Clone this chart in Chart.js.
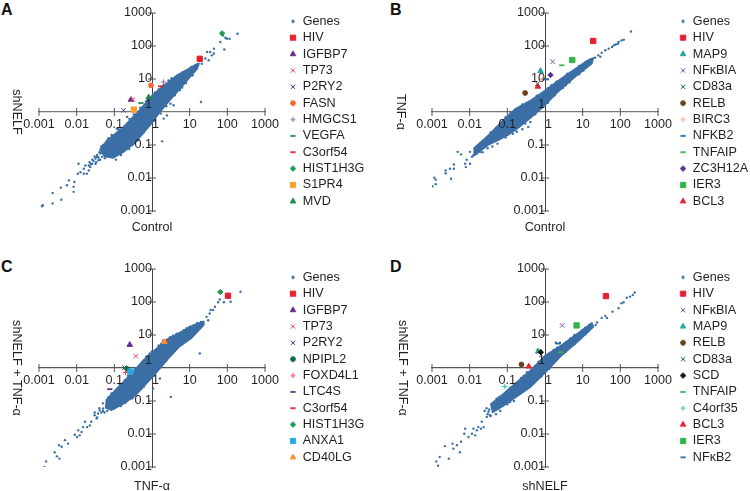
<!DOCTYPE html>
<html>
<head>
<meta charset="utf-8">
<script src="https://cdn.jsdelivr.net/npm/chart.js@4/dist/chart.umd.js"></script>
<style>
  html, body { margin: 0; background: #fff; width: 750px; height: 491px; overflow: hidden; }
  canvas { position: absolute; }
  .letra { position: absolute; font: bold 16px "Liberation Sans", Arial, sans-serif; color: #111; line-height: 16px; }
</style>
</head>
<body>
<div class="letra" style="left:1px;top:2px">A</div>
<div class="letra" style="left:390px;top:2px">B</div>
<div class="letra" style="left:1px;top:259px">C</div>
<div class="letra" style="left:390px;top:259px">D</div>
<canvas id="chartA" width="375" height="235" style="left:0;top:0"></canvas>
<canvas id="chartB" width="375" height="235" style="left:375px;top:0"></canvas>
<canvas id="chartC" width="375" height="235" style="left:0;top:256px"></canvas>
<canvas id="chartD" width="375" height="235" style="left:375px;top:256px"></canvas>
<script>
  // ejes: mismas divisiones en los dos
  const tickValues = [0.001, 0.01, 0.1, 1, 10, 100, 1000]

  // A: shNELF vs Control
  const labelsA = ["HIV", "IGFBP7", "TP73", "P2RY2", "FASN", "HMGCS1", "VEGFA", "C3orf54", "HIST1H3G", "S1PR4", "MVD"]
  const valuesA = [[18.5,41],[0.276,2.36],[0.31,2.4],[0.176,1.12],[0.94,6.4],[2.04,8.1],[0.51,1.87],[1.7,6],[72.7,242],[0.33,1.18],[0.815,2.78]]
  const bandA = [[0.04,0.07],[0.063,0.138],[0.174,0.36],[0.48,1.2],[1,3.2],[1.6,5.1],[4.5,12.9],[9,20],[15.3,29],[18,30],
    [16,20],[10,11],[6.8,6.5],[3,2.26],[1.47,0.85],[1,0.46],[0.355,0.115],[0.174,0.06],[0.093,0.04],[0.052,0.045]]
  const genesA = [[0.0012,0.0014],[0.00126,0.0015],[0.0023,0.0035],[0.0023,0.0017],[0.0039,0.0022],[0.0038,0.0051],[0.0055,0.006],[0.0062,0.0085],
    [0.0083,0.0038],[0.0083,0.0054],[0.0087,0.0076],[0.0107,0.0135],[0.0112,0.027],[0.0126,0.015],[0.0155,0.019],[0.017,0.024],[0.0186,0.0135],
    [0.021,0.017],[0.023,0.0214],[0.0257,0.027],[0.0316,0.027],[0.0347,0.0437],[0.038,0.0347],[0.0316,0.0389],[0.021,0.024],[0.0155,0.0135],
    [0.043,0.055],[0.047,0.0437],[0.0645,0.138],[0.117,0.31],[0.218,0.71],[0.49,1.35],[1.5,4.8],[2.75,9.1],[5.6,13.8],[10.5,20.5],
    [0.096,0.049],[0.218,0.078],[0.447,0.195],[0.81,0.447],[3.1,1.78],[3.76,1.6],[2.5,0.79],[2.04,0.63],[6.3,5.5],[11.5,12.9],
    [21,29],[26,42],[32,37],[29,66],[35,66],[44,83],[39,52],[44,59],[65,132],[77,209],[89,178],[98,166],[83,78],[115,166],[186,234],[20,2],[1.86,0.129],
    [0.022,0.03],[0.026,0.036],[0.03,0.045],[0.035,0.05],[0.028,0.033],[0.033,0.03],[0.024,0.026],[0.038,0.042],[0.04,0.06],[0.042,0.036],[0.045,0.09],
    [0.05,0.1],[0.056,0.04],[0.07,0.16],[0.085,0.2],[0.11,0.036],[0.15,0.05],[0.25,0.075],[0.3,0.1],[0.42,0.14],[0.6,0.24],[0.75,0.35],[1.2,0.55],[1.7,0.9],
    [2.4,1.5],[4,3.2],[5.5,4.6],[8,7.5],[12,13],[0.13,0.3],[0.25,0.62],[0.33,0.85],[0.7,2.1],[1.2,3.9],[2,6.5],[3.3,10.5],[6.5,16],[11,23]]

  // B: TNF-a vs Control
  const labelsB = ["HIV", "MAP9", "NFκBIA", "CD83a", "RELB", "BIRC3", "NFKB2", "TNFAIP", "ZC3H12A", "IER3", "BCL3"]
  const valuesB = [[19.1,142],[0.76,17.5],[1.6,33.5],[0.63,7.2],[0.297,3.76],[0.86,9.8],[1.1,9.7],[2.8,26],[1.4,13.2],[5.3,37.7],[0.645,5.9]]
  const bandB = [[0.0126,0.078],[0.0316,0.2],[0.071,0.52],[0.162,1.26],[0.447,2.4],[1,4.6],[2.3,9.1],[6.3,20.5],[14.5,39],[19.5,44],
    [17.8,29],[6.3,11.5],[2.3,4.2],[1,1.6],[0.447,0.7],[0.2,0.33],[0.107,0.2],[0.058,0.14],[0.0316,0.1],[0.0126,0.0457]]
  const genesB = [[0.00102,0.0056],[0.00126,0.0065],[0.00115,0.0102],[0.00126,0.0089],[0.0032,0.0095],[0.0023,0.017],[0.0023,0.014],[0.003,0.019],
    [0.0038,0.0257],[0.0038,0.019],[0.0048,0.062],[0.0059,0.052],[0.0076,0.027],[0.0079,0.0214],[0.0102,0.027],[0.0083,0.036],[0.0102,0.062],
    [0.0126,0.049],[0.014,0.078],[0.017,0.087],[0.019,0.062],[0.0234,0.11],[0.0257,0.138],[0.0155,0.055],[0.021,0.078],[0.0115,0.0437],
    [21.5,44],[32,62],[40,74],[49,83],[60,93],[76,112],[90,132],[107,148],[123,155],[87,117],[68,105],[26,52],[191,275],[29.5,47],
    [0.27,1.48],[0.676,3.2],[1.5,6.5],[3.8,13.8],[9.5,26],[0.36,0.35],[0.24,0.43],[0.41,0.5],[0.676,1.12],[1.5,2.85],[3.5,6.5],[10.5,18],[0.162,0.28],[0.071,0.22],[0.048,0.138],
    [0.014,0.06],[0.016,0.085],[0.018,0.07],[0.02,0.1],[0.022,0.06],[0.025,0.09],[0.028,0.16],[0.03,0.08],[0.036,0.24],[0.04,0.09],[0.05,0.33],[0.09,0.7],[0.12,1],
    [0.055,0.11],[0.09,0.17],[0.14,0.22],[0.18,0.25],[0.25,0.3],[0.3,0.45],[0.55,0.85],[0.8,1.3],[1.2,1.9],[1.8,3.2],[3,5.3],[4.5,8],[8,14],[0.25,1.7],[0.6,3.1],[1.2,5.3],[2,8.3],[4,14.5],[8,25],[12,33]]

  // C: shNELF + TNF-a vs TNF-a
  const labelsC = ["HIV", "IGFBP7", "TP73", "P2RY2", "NPIPL2", "FOXD4L1", "LTC4S", "C3orf54", "HIST1H3G", "ANXA1", "CD40LG"]
  const valuesC = [[104,155],[0.257,5.05],[0.37,2.28],[0.186,1.03],[0.218,0.94],[0.197,0.73],[0.076,0.228],[2.15,6.8],[65,200],[0.268,0.78],[2.15,6.2]]
  const bandC = [[0.059,0.105],[0.115,0.24],[0.285,0.68],[0.58,1.74],[1.19,3.6],[2.43,7.3],[5.5,12],[12.3,20],[23,26],
    [24,20],[11.2,8],[5.5,4.5],[2.7,1.9],[1.32,0.72],[0.71,0.33],[0.35,0.14],[0.17,0.08],[0.084,0.052],[0.056,0.063]]
  const genesC = [[0.0014,0.001],[0.00155,0.00148],[0.0026,0.0028],[0.003,0.0021],[0.0035,0.0018],[0.0034,0.0046],[0.004,0.0041],[0.0049,0.0065],
    [0.0059,0.0051],[0.0089,0.0095],[0.0102,0.0081],[0.012,0.0091],[0.011,0.0129],[0.0148,0.0162],[0.019,0.0162],[0.0245,0.0234],[0.0224,0.0182],
    [0.03,0.037],[0.037,0.042],[0.041,0.052],[0.05,0.059],[0.034,0.0295],[0.0166,0.0234],[0.0135,0.0115],
    [0.084,0.17],[0.19,0.43],[0.43,1.08],[0.87,2.75],[1.78,5.5],[3.6,9.5],[8.3,16],
    [0.126,0.071],[0.257,0.118],[0.525,0.24],[0.97,0.54],[2,1.47],[3.6,3.9],[8.3,9.5],[18.6,2.75],[3.16,0.133],[1.07,0.24],[1.62,0.48],
    [28,35.5],[34,45],[31,28],[36,57],[47,72],[57,98],[63,120],[81,98],[117,145],[122,102],[224,204],[42,57],
    [0.03,0.045],[0.035,0.032],[0.04,0.06],[0.045,0.045],[0.05,0.05],[0.05,0.085],[0.055,0.045],[0.065,0.05],[0.07,0.13],[0.1,0.06],[0.15,0.07],[0.2,0.09],[0.3,0.12],
    [0.45,0.2],[0.6,0.27],[0.85,0.45],[1.2,0.65],[1.8,1.2],[2.4,1.7],[4,3.3],[6,5],[9,7.5],[14,12],[18,17],[0.14,0.32],[0.23,0.58],[0.35,1],[0.7,2.2],[1,3.2],[1.5,4.8],
    [3,8.6],[4.5,11],[7,14],[10,18],[16,23],[20,25]]

  // D: shNELF + TNF-a vs shNELF
  const labelsD = ["HIV", "NFκBIA", "MAP9", "RELB", "CD83a", "SCD", "TNFAIP", "C4orf35", "BCL3", "IER3", "NFκB2"]
  const valuesD = [[41.5,151],[2.86,19.5],[0.66,3.2],[0.237,1.28],[0.68,3.2],[0.775,3],[2.64,3],[0.0855,0.275],[0.37,1.11],[6.9,19.5],[2.2,5.5]]
  const bandD = [[0.035,0.078],[0.079,0.17],[0.178,0.38],[0.41,0.86],[1,2.4],[2.8,5.1],[7.8,12],[17.6,23.5],
    [19.5,17.8],[7.8,6.6],[2.8,2.4],[1,0.7],[0.41,0.26],[0.178,0.135],[0.079,0.07],[0.039,0.0437]]
  const genesD = [[0.0013,0.00148],[0.00145,0.0011],[0.0016,0.002],[0.0022,0.0043],[0.0028,0.0018],[0.0037,0.0036],[0.0046,0.0046],[0.0035,0.0051],
    [0.0055,0.0028],[0.0059,0.0058],[0.0076,0.0145],[0.0072,0.0102],[0.0093,0.0081],[0.0115,0.0102],[0.0126,0.0145],[0.014,0.0091],[0.017,0.0162],
    [0.021,0.0234],[0.0234,0.0162],[0.0316,0.047],[0.0285,0.033],[0.035,0.037],[0.02,0.0145],[0.0155,0.0129],
    [0.052,0.118],[0.118,0.25],[0.27,0.575],[0.676,1.55],[1.7,3.5],[4.7,7.9],[11.7,16.6],
    [0.058,0.059],[0.118,0.093],[0.27,0.2],[0.676,0.54],[1.7,1.55],[4.7,4.4],[11.7,10.5],[1.95,5.8],[2.5,5.8],
    [24,24],[32,33],[40,38],[44,33],[62,51],[90,65],[107,91],[148,135],[182,145],[214,162],[240,195],[122,98],[22,20],
    [0.025,0.05],[0.028,0.06],[0.03,0.04],[0.033,0.055],[0.036,0.035],[0.04,0.07],[0.045,0.09],[0.05,0.04],[0.06,0.13],[0.065,0.05],[0.1,0.2],[0.1,0.08],[0.15,0.1],[0.15,0.3],
    [0.22,0.17],[0.23,0.5],[0.33,0.23],[0.33,0.75],[0.5,0.35],[0.55,1.15],[0.8,0.55],[0.85,1.95],[1.3,0.95],[1.3,2.7],[2.1,1.9],[2.1,4.1],[3.5,3.1],[3.6,5.9],[6,5.2],[6,10],[9,8],[10,14],[14,13],[15,20]]

  // estilo de cada marcador, aparte de los datos
  const tamanos = { rect: 3.75, circle: 2.4, triangle: 3.2, crossRot: 3.2, cross: 2.6, line: 2.6, rectRot: 2.7 }
  const estilos = {
    "HIV": ["rect", "#e51f30"], "IGFBP7": ["triangle", "#6a2d8f"], "TP73": ["crossRot", "#e8505b"], "P2RY2": ["crossRot", "#3d3a80"],
    "FASN": ["circle", "#ee6a31"], "HMGCS1": ["cross", "#8e5aa8"], "VEGFA": ["line", "#1f8a4c"], "C3orf54": ["line", "#e0202f"],
    "HIST1H3G": ["rectRot", "#1f9a50"], "S1PR4": ["rect", "#f5a030"], "MVD": ["triangle", "#1a8a4c"],
    "MAP9": ["triangle", "#1fa898"], "NFκBIA": ["crossRot", "#7d4fa5"], "CD83a": ["crossRot", "#1c6b45"], "RELB": ["circle", "#6a3f1a"],
    "BIRC3": ["cross", "#f5a07a"], "NFKB2": ["line", "#1f6fb0"], "TNFAIP": ["line", "#3ab54a"], "ZC3H12A": ["rectRot", "#5b2d91"],
    "IER3": ["rect", "#35b24a"], "BCL3": ["triangle", "#e8202f"],
    "NPIPL2": ["circle", "#0f6b3c"], "FOXD4L1": ["cross", "#e8404f"], "LTC4S": ["line", "#6a2f91"], "ANXA1": ["rect", "#2aa8e0"], "CD40LG": ["triangle", "#f39230"],
    "SCD": ["rectRot", "#111111"], "C4orf35": ["cross", "#3abfa5"], "NFκB2": ["line", "#1f6fb0"]
  }
  const colorGenes = "#3a6ea5"
  const fuente = { family: "'Liberation Sans', Arial, sans-serif", size: 12.6 }

  // el marcador de la leyenda va en un canvas chico para poder darle su tamaño
  function marcaLeyenda(forma, color, radio) {
    const c = document.createElement("canvas")
    c.width = 14; c.height = 14
    const g = c.getContext("2d")
    g.fillStyle = color; g.strokeStyle = color
    g.lineWidth = (forma == "line") ? 1.8 : 1
    Chart.helpers.drawPoint(g, { pointStyle: forma, radius: radio, borderWidth: g.lineWidth }, 7, 7)
    return c
  }

  // leyenda fuera del area del grafico, en un lugar fijo
  const leyendaFija = {
    id: "leyendaFija",
    beforeLayout(chart, args, opts) {
      const lg = chart.legend
      if (!lg.envuelta) {
        const up = lg.update
        lg.update = function (w, h, m) { up.call(this, w, 400, m); this.width = 90 }
        lg.envuelta = true
      }
    },
    afterLayout(chart, args, opts) {
      const lg = chart.legend
      lg.left = opts.x; lg.right = opts.x + 90
      lg.top = 11.3; lg.bottom = 235
    }
  }

  // rayitas que cruzan los ejes, debajo de los puntos
  const rayitas = {
    id: "rayitas",
    beforeDatasetsDraw(chart) {
      const { ctx, scales: { x, y } } = chart
      const x0 = x.getPixelForValue(1), y0 = y.getPixelForValue(1)
      ctx.save()
      ctx.lineWidth = 1
      ctx.strokeStyle = "#555"
      tickValues.forEach(v => {
        if (v == 1) return
        const px = x.getPixelForValue(v), py = y.getPixelForValue(v)
        ctx.beginPath(); ctx.moveTo(px, y0 - 4); ctx.lineTo(px, y0 + 4); ctx.stroke()
        ctx.beginPath(); ctx.moveTo(x0 - 4, py); ctx.lineTo(x0 + 4, py); ctx.stroke()
      })
      ctx.restore()
    }
  }

  function crearPanel(id, cfg) {
    const datasets = [{
      label: "Genes", data: cfg.genes, pointStyle: "circle", pointRadius: 1.2, pointBorderWidth: 0,
      backgroundColor: colorGenes, borderColor: colorGenes, order: 50
    }, {
      label: "cloud", data: cfg.band, showLine: true, fill: "shape", pointRadius: 0, borderWidth: 1.2,
      backgroundColor: colorGenes, borderColor: colorGenes, order: 60
    }]
    cfg.labels.forEach((nombre, i) => {
      const forma = estilos[nombre][0], color = estilos[nombre][1]
      datasets.push({
        label: nombre, data: [cfg.values[i]], pointStyle: forma, pointRadius: tamanos[forma],
        pointBorderWidth: forma == "line" ? 1.8 : 1, backgroundColor: color, borderColor: color, order: 20 - i
      })
    })

    new Chart(document.getElementById(id).getContext("2d"), {
      type: "scatter",
      data: { datasets: datasets },
      plugins: [leyendaFija, rayitas],
      options: {
        responsive: false,
        animation: false,
        layout: { padding: { left: cfg.left, right: 375 - cfg.left - 226 - 90, top: 13, bottom: 24 } },
        scales: {
          x: {
            type: "logarithmic", min: 0.001, max: 1000, position: { y: 1 },
            afterBuildTicks: s => { s.ticks = tickValues.map(v => ({ value: v })) },
            grid: { display: false, drawTicks: false },
            border: { color: cfg.colorX, width: 1.3 },
            ticks: { autoSkip: false, maxRotation: 0, padding: 5, z: 1, color: "#231f20", font: fuente,
              callback: v => v == 1 ? "  1" : String(v) },
            // la altura del eje tiene tope, el titulo se baja con el padding negativo
            title: { display: true, text: cfg.xTitle, color: "#231f20", font: fuente, padding: { top: 150, bottom: cfg.xPad } }
          },
          y: {
            type: "logarithmic", min: 0.001, max: 1000, position: { x: 1 },
            afterBuildTicks: s => { s.ticks = tickValues.map(v => ({ value: v })) },
            grid: { display: false, drawTicks: false },
            border: { color: "#444", width: 1 },
            ticks: { autoSkip: false, padding: 5, z: 1, color: "#231f20", font: fuente,
              callback: v => v == 1 ? ["1", ""] : String(v) },
            title: { display: true, text: cfg.yTitle, color: "#231f20", font: fuente, padding: { top: 200, bottom: cfg.yPad } }
          }
        },
        plugins: {
          leyendaFija: { x: cfg.legendX },
          tooltip: { enabled: false },
          legend: {
            position: "right",
            align: "start",
            labels: {
              usePointStyle: true, boxWidth: 7, boxHeight: 7, padding: 3.76, color: "#231f20", font: fuente,
              filter: item => item.text != "cloud",
              sort: (a, b) => a.datasetIndex - b.datasetIndex,
              generateLabels(chart) {
                return Chart.defaults.plugins.legend.labels.generateLabels(chart).map(item => {
                  if (item.text == "Genes") item.pointStyle = marcaLeyenda("circle", colorGenes, 1.2)
                  else if (item.text != "cloud") {
                    const f = estilos[item.text][0]
                    item.pointStyle = marcaLeyenda(f, estilos[item.text][1], tamanos[f])
                  }
                  return item
                })
              }
            }
          }
        }
      }
    })
  }

  crearPanel("chartA", { labels: labelsA, values: valuesA, genes: genesA, band: bandA, left: 39, legendX: 285.7, xTitle: "Control", yTitle: "shNELF", xPad: -24, yPad: -64.5, colorX: "#777" })
  crearPanel("chartB", { labels: labelsB, values: valuesB, genes: genesB, band: bandB, left: 57, legendX: 300.8, xTitle: "Control", yTitle: "TNF-α", xPad: -24, yPad: -73.5, colorX: "#777" })
  crearPanel("chartC", { labels: labelsC, values: valuesC, genes: genesC, band: bandC, left: 39, legendX: 285.7, xTitle: "TNF-α", yTitle: "shNELF + TNF-α", xPad: -27.2, yPad: -64.5, colorX: "#555" })
  crearPanel("chartD", { labels: labelsD, values: valuesD, genes: genesD, band: bandD, left: 57, legendX: 300.8, xTitle: "shNELF", yTitle: "shNELF + TNF-α", xPad: -27.2, yPad: -71, colorX: "#555" })
</script>
</body>
</html>
